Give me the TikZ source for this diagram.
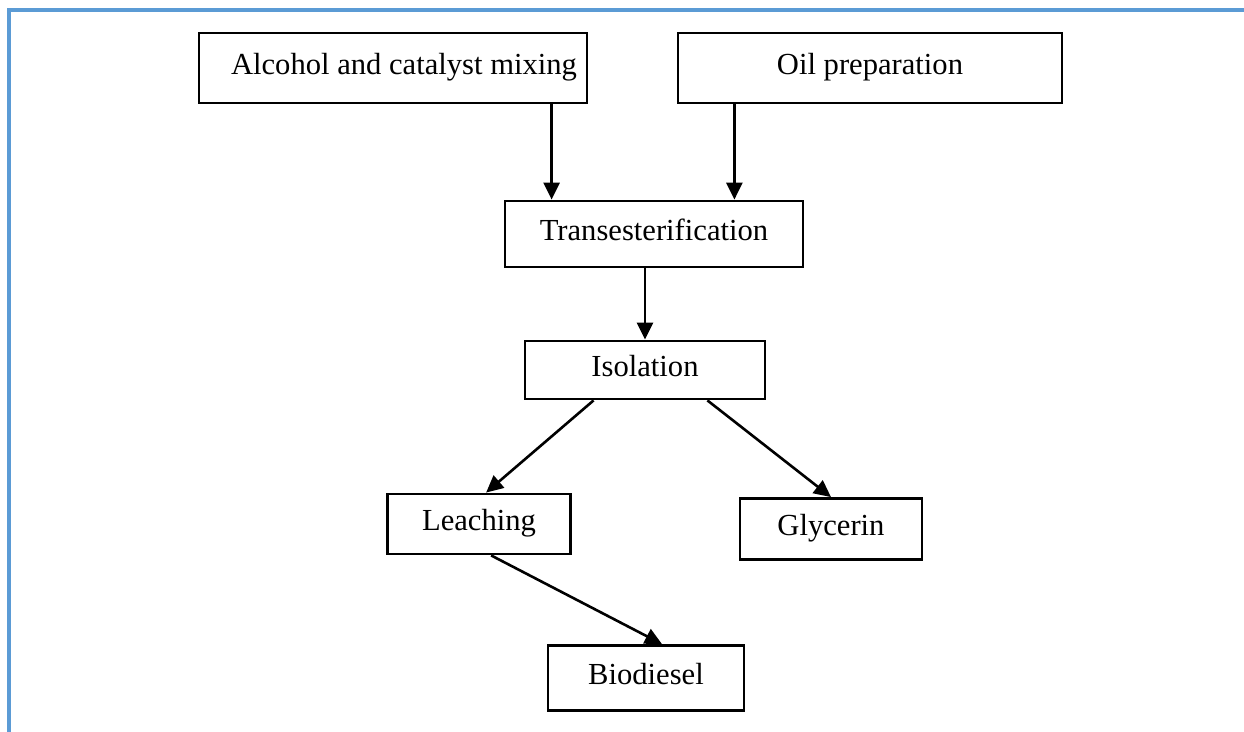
\documentclass[tikz,border=0pt]{standalone}
\usepackage{fontspec}
\setmainfont{Liberation Serif}
\usetikzlibrary{arrows.meta}
\definecolor{frameblue}{HTML}{5B9BD5}

\begin{document}
\begin{tikzpicture} [x=0.5pt,y=-0.5pt,>={Triangle[length=8.5pt,width=8pt]},
			frame line/.style={draw=frameblue,line width=2.2pt},
			stage/.style={draw,line width=1.4pt,rectangle,inner sep=0pt,
				text height=11pt,text depth=4.5pt,
				font=\fontsize{15.3pt}{18pt}\selectfont},
			flow/.style={->,line width=1.3pt}]

		\useasboundingbox (0,0) rectangle (1244,732);
		\draw [frame line] (9,732) -- (9,10) -- (1244,10);

		\node [stage, minimum width=194pt, minimum height=35pt] (alc) at (393,68) {\hspace*{11pt}Alcohol and catalyst mixing};
		\node [stage, minimum width=192pt, minimum height=35pt] (oil) at (870,68) {Oil preparation};
		\node [stage, minimum width=149pt, minimum height=33pt] (trans) at (654,234) {Transesterification};
		\node [stage, minimum width=120pt, minimum height=29pt] (iso) at (645,370) {Isolation};
		\node [stage, minimum width=91.5pt, minimum height=30pt] (leach) at (479,524) {Leaching};
		\node [stage, minimum width=91pt, minimum height=30.5pt] (glyc) at (831,529) {Glycerin};
		\node [stage, minimum width=98pt, minimum height=32.5pt] (bio) at (646,678) {Biodiesel};

		\draw [flow] ([xshift=24pt]trans.north west |- alc.south) -- ([xshift=24pt]trans.north west);
		\draw [flow] ([xshift=-35pt]trans.north east |- oil.south) -- ([xshift=-35pt]trans.north east);
		\draw [flow] (iso.north |- trans.south) -- (iso.north);
		\draw [flow] ([xshift=35pt]iso.south west) -- ([xshift=50pt]leach.north west);
		\draw [flow] ([xshift=-29.5pt]iso.south east) -- (glyc.north);
		\draw [flow] ([xshift=52.5pt]leach.south west) -- ([xshift=8pt]bio.north);

		\end{tikzpicture}
\end{document}
